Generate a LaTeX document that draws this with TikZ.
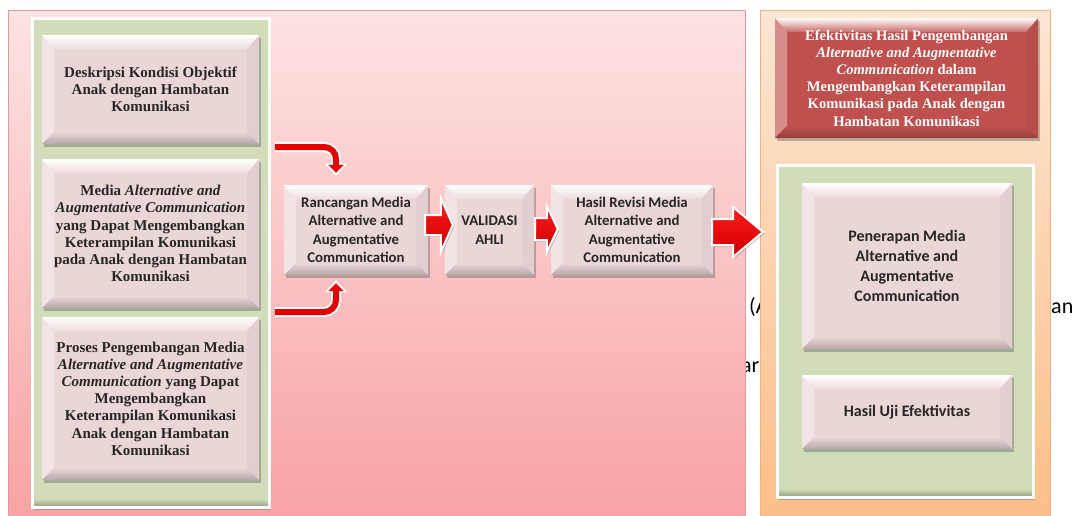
\documentclass[tikz,border=0pt]{standalone}
\usepackage{fontspec}
\setmainfont{Liberation Serif}
\newfontfamily\calfont{Carlito}
\usetikzlibrary{calc,shadows,arrows.meta}
\definecolor{boxpink}{HTML}{EBD6D6}
\definecolor{redbox}{HTML}{C0504D}
\definecolor{greenp}{HTML}{D0DDB8}
\definecolor{pinktop}{HTML}{FDE3E3}
\definecolor{pinkbot}{HTML}{F8A2A2}
\definecolor{pinkedge}{HTML}{E39A9A}
\definecolor{orgtop}{HTML}{FDE6D3}
\definecolor{orgbot}{HTML}{FBBE88}
\definecolor{orgedge}{HTML}{F4B183}
\definecolor{txt}{HTML}{262626}
\definecolor{arrtop}{HTML}{FF1A1A}
\definecolor{arrbot}{HTML}{CC0000}
\tikzset{
  bev/.style={rectangle, inner sep=0pt, align=center, fill=#1, text=txt,
    drop shadow={shadow xshift=2pt, shadow yshift=-2.5pt, opacity=0.35, fill=black!70},
    path picture={
      \coordinate (q1) at (path picture bounding box.north west);
      \coordinate (q2) at (path picture bounding box.north east);
      \coordinate (q3) at (path picture bounding box.south east);
      \coordinate (q4) at (path picture bounding box.south west);
      \fill[#1!65!white] (q1) -- ([shift={(12pt,-14pt)}]q1) -- ([shift={(12pt,12pt)}]q4) -- (q4) -- cycle;
      \fill[#1!96!black] (q2) -- ([shift={(-12pt,-14pt)}]q2) -- ([shift={(-12pt,12pt)}]q3) -- (q3) -- cycle;
      \shade[top color=white, bottom color=#1!85!white] (q1) -- (q2) -- ([shift={(-12pt,-14pt)}]q2) -- ([shift={(12pt,-14pt)}]q1) -- cycle;
      \shade[top color=#1, bottom color=#1!78!black] ([shift={(12pt,12pt)}]q4) -- ([shift={(-12pt,12pt)}]q3) -- (q3) -- (q4) -- cycle;
    }},
  bev/.default=boxpink,
  gpanel/.style={rectangle, fill=greenp, draw=white, line width=3pt, inner sep=0pt,
    drop shadow={shadow xshift=2pt, shadow yshift=-2.5pt, opacity=0.3, fill=black!70},
    path picture={
      \coordinate (g3) at (path picture bounding box.south east);
      \coordinate (g4) at (path picture bounding box.south west);
      \shade[top color=greenp, bottom color=greenp!70!black] ([shift={(2pt,8pt)}]g4) -- ([shift={(-2pt,8pt)}]g3) -- (g3) -- (g4) -- cycle;
    }},
  serifbox/.style={font=\bfseries\fontsize{#1}{17.2}\selectfont},
  sansbox/.style={font=\calfont\bfseries\fontsize{14.8}{18.5}\selectfont},
  sansbig/.style={font=\calfont\bfseries\fontsize{16}{20}\selectfont},
  blockarr/.style={draw=white, line width=2pt, line join=miter, top color=arrtop, bottom color=arrbot,
    drop shadow={shadow xshift=1.5pt, shadow yshift=-1.5pt, opacity=0.3, fill=black!70}},
  stray/.style={font=\calfont\fontsize{22}{26}\selectfont, text=black, inner sep=0pt, anchor=base west},
  wline/.style={draw=white, line width=10pt, rounded corners=12pt, shorten >=-3pt,
    -{Triangle[length=12pt,width=22pt]}},
  rline/.style={draw=red!90!black, line width=6pt, rounded corners=12pt,
    -{Triangle[length=8pt,width=15pt]}},
}
\newcommand\blockarrow[5]{%
  \path[blockarr] ($(#1)+(0,-#3)$) -- ($(#2)+(-#5,-#3)$) -- ($(#2)+(-#5,-#4)$) -- (#2)
    -- ($(#2)+(-#5,#4)$) -- ($(#2)+(-#5,#3)$) -- ($(#1)+(0,#3)$) -- cycle;}
\begin{document}
\begin{tikzpicture}[x=1pt,y=-1pt]
\useasboundingbox (0,0) rectangle (1076,515);
% stray text behind
\node[stray] (s1) at (749,313) {(A};
\node[stray] (s2) at (1051,313) {an};
\node[stray] (s3) at (741,372) {ar};
% panels
\path[top color=pinktop, bottom color=pinkbot, draw=pinkedge, line width=0.8pt] (8,10) rectangle (745,520);
\path[top color=orgtop, bottom color=orgbot, draw=orgedge, line width=0.8pt] (760,10) rectangle (1050,520);
\node[gpanel, minimum width=237, minimum height=489] (gl) at (150.5,262.5) {};
\node[gpanel, minimum width=256, minimum height=332] (gr) at (905,331) {};
% left boxes
\node[bev, serifbox=15, minimum width=217, minimum height=109] (b1) at (150.5,89.5)
  {Deskripsi Kondisi Objektif\\Anak dengan Hambatan\\Komunikasi};
\node[bev, serifbox=15, minimum width=217, minimum height=149] (b2) at (150.5,233.5)
  {Media \textit{Alternative and}\\\textit{Augmentative Communication}\\yang Dapat Mengembangkan\\Keterampilan Komunikasi\\pada Anak dengan Hambatan\\Komunikasi};
\node[bev, serifbox=15, minimum width=217, minimum height=163] (b3) at (150.5,398.5)
  {Proses Pengembangan Media\\\textit{Alternative and Augmentative}\\\textit{Communication} yang Dapat\\Mengembangkan\\Keterampilan Komunikasi\\Anak dengan Hambatan\\Komunikasi};
% middle boxes
\node[bev, sansbox, minimum width=144, minimum height=90] (ran) at (356,230)
  {Rancangan Media\\Alternative and\\Augmentative\\Communication};
\node[bev, sansbox, minimum width=89, minimum height=90] (val) at (489.5,230)
  {VALIDASI\\AHLI};
\node[bev, sansbox, minimum width=162, minimum height=90] (rev) at (632,230)
  {Hasil Revisi Media\\Alternative and\\Augmentative\\Communication};
% right boxes
\node[bev=redbox, serifbox=14.6, text=white, minimum width=263, minimum height=120] (eff) at (906.5,78)
  {Efektivitas Hasil Pengembangan\\\textit{Alternative and Augmentative}\\\textit{Communication} dalam\\Mengembangkan Keterampilan\\Komunikasi pada Anak dengan\\Hambatan Komunikasi};
\node[bev, sansbig, minimum width=210, minimum height=166] (pen) at (907,266)
  {Penerapan Media\\Alternative and\\Augmentative\\Communication};
\node[bev, sansbig, minimum width=210, minimum height=74] (uji) at (907,412)
  {Hasil Uji Efektivitas};
% curved arrows
\coordinate (c1) at (275,147);
\coordinate (c2) at (275,312);
\draw[wline] (c1) -| ([xshift=-20pt,yshift=12pt]ran.north);
\draw[rline] (c1) -| ([xshift=-20pt,yshift=12pt]ran.north);
\draw[wline] (c2) -| ([xshift=-20pt,yshift=-8pt]ran.south);
\draw[rline] (c2) -| ([xshift=-20pt,yshift=-8pt]ran.south);
% block arrows
\coordinate (a1s) at ([yshift=5pt,xshift=-3pt]ran.east);
\coordinate (a1t) at ([yshift=5pt,xshift=8pt]val.west);
\blockarrow{a1s}{a1t}{10}{27}{12}
\coordinate (a2s) at ([yshift=1pt,xshift=1pt]val.east);
\coordinate (a2t) at ([yshift=1pt,xshift=7pt]rev.west);
\blockarrow{a2s}{a2t}{11}{23}{11}
\coordinate (a3s) at ([yshift=-2pt,xshift=-1pt]rev.east);
\coordinate (a3t) at (763,232);
\blockarrow{a3s}{a3t}{13}{25}{30}
\end{tikzpicture}
\end{document}
